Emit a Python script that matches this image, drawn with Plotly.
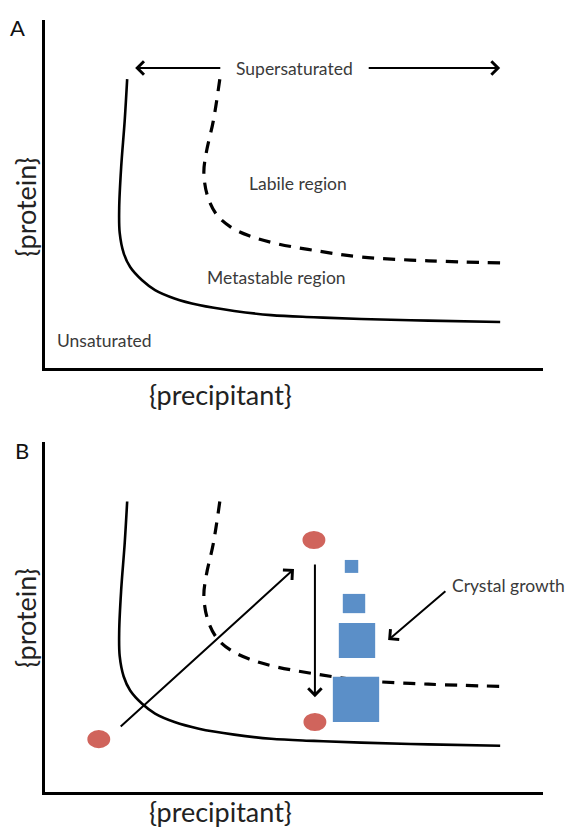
import plotly.graph_objects as go

# ---- data (conceptual units: precipitant 0-10, protein 0-10) ----
solid_x = [1.65, 1.60, 1.53, 1.49, 1.50, 1.58, 1.71, 1.95, 2.21, 2.60, 3.09, 3.80, 4.54, 5.40, 6.35, 7.70, 9.14]
solid_y = [8.30, 7.10, 5.78, 4.60, 3.88, 3.30, 2.90, 2.52, 2.24, 2.00, 1.81, 1.64, 1.52, 1.46, 1.41, 1.36, 1.32]

dash_x = [3.51, 3.38, 3.24, 3.19, 3.27, 3.45, 3.73, 4.10, 4.60, 5.40, 6.35, 7.70, 9.14]
dash_y = [8.30, 7.10, 6.20, 5.60, 4.91, 4.40, 4.05, 3.80, 3.59, 3.38, 3.19, 3.08, 3.02]

# panel B: start/end points (red dots), process arrows, crystals
dot_x = [1.08, 5.40, 5.42]
dot_y = [1.51, 7.20, 2.00]
diag_arrow = [(1.49, 1.83), (5.00, 6.37)]      # tail, head
vert_arrow = [(5.42, 6.54), (5.42, 2.71)]
growth_arrow = [(8.07, 5.77), (6.89, 4.34)]
crystal_x0 = [6.02, 5.98, 5.90, 5.78]
crystal_x1 = [6.29, 6.43, 6.63, 6.71]
crystal_y0 = [6.26, 5.11, 3.83, 2.00]
crystal_y1 = [6.63, 5.66, 4.83, 3.29]

# panel A: arrows and region labels
super_left = [(3.55, 8.62), (1.81, 8.62)]
super_right = [(6.47, 8.62), (9.14, 8.62)]
labels_A = [("Supersaturated", 5.00, 8.60), ("Labile region", 5.08, 5.29),
            ("Metastable region", 4.64, 2.59), ("Unsaturated", 1.20, 0.78)]

FONT = "Lato"
RED = "#d0645c"
BLUE = "#5b8fc8"
TXT = "#3a3a3a"

fig = go.Figure()
for xa, ya in (("x", "y"), ("x2", "y2")):
    fig.add_trace(go.Scatter(x=solid_x, y=solid_y, mode="lines", line=dict(color="black", width=2.6, shape="spline"),
                             xaxis=xa, yaxis=ya, showlegend=False, hoverinfo="skip"))
    fig.add_trace(go.Scatter(x=dash_x, y=dash_y, mode="lines",
                             line=dict(color="black", width=3.2, shape="spline", dash="12px,9px"),
                             xaxis=xa, yaxis=ya, showlegend=False, hoverinfo="skip"))

shapes = []
for i in range(len(crystal_x0)):
    shapes.append(dict(type="rect", xref="x2", yref="y2", x0=crystal_x0[i], x1=crystal_x1[i],
                       y0=crystal_y0[i], y1=crystal_y1[i], fillcolor=BLUE, line=dict(width=0), layer="above"))
for cx, cy in zip(dot_x, dot_y):
    shapes.append(dict(type="circle", xref="x2", yref="y2", x0=cx - 0.23, x1=cx + 0.23,
                       y0=cy - 0.26, y1=cy + 0.26, fillcolor=RED, line=dict(width=0), layer="above"))

ann = []
def arrow(seg, xr, yr, width=2):
    (tx, ty), (hx, hy) = seg
    ann.append(dict(x=hx, y=hy, ax=tx, ay=ty, xref=xr, yref=yr, axref=xr, ayref=yr,
                    showarrow=True, arrowhead=4, arrowsize=1.3, arrowwidth=width, arrowcolor="black", text=""))

arrow(super_left, "x", "y")
arrow(super_right, "x", "y")
arrow(diag_arrow, "x2", "y2")
arrow(vert_arrow, "x2", "y2")
arrow(growth_arrow, "x2", "y2")

for t, lx, ly in labels_A:
    ann.append(dict(x=lx, y=ly, xref="x", yref="y", text=t, showarrow=False, xanchor="center", yanchor="middle",
                    font=dict(family=FONT, size=17.5, color=TXT)))
ann.append(dict(x=8.13, y=5.91, xref="x2", yref="y2", text="Crystal growth", showarrow=False,
                xanchor="left", yanchor="middle", font=dict(family=FONT, size=17.5, color=TXT)))

for txt, px, py in (("A", 17, 27), ("B", 22, 450)):
    ann.append(dict(x=px / 565, y=1 - py / 830, xref="paper", yref="paper", text=txt, showarrow=False,
                    xanchor="center", yanchor="middle", font=dict(family=FONT, size=22, color="#111111")))
for py_pro, py_pre in ((207, 395), (618, 811)):
    ann.append(dict(x=25 / 565, y=1 - py_pro / 830, xref="paper", yref="paper", text="{protein}", textangle=-90,
                    showarrow=False, xanchor="center", yanchor="middle",
                    font=dict(family=FONT, size=27, color="#222222")))
    ann.append(dict(x=220 / 565, y=1 - py_pre / 830, xref="paper", yref="paper", text="{precipitant}",
                    showarrow=False, xanchor="center", yanchor="middle",
                    font=dict(family=FONT, size=27, color="#222222")))

ax_common = dict(range=[0, 10], showgrid=False, zeroline=False, showticklabels=False, ticks="",
                 showline=True, linecolor="black", linewidth=2.5, fixedrange=True)
xdom = [45 / 565, 543 / 565]
fig.update_layout(
    width=565, height=830, margin=dict(l=0, r=0, t=0, b=0),
    paper_bgcolor="white", plot_bgcolor="white",
    xaxis=dict(domain=xdom, anchor="y", **ax_common),
    yaxis=dict(domain=[1 - 368 / 830, 1 - 20 / 830], anchor="x", **ax_common),
    xaxis2=dict(domain=xdom, anchor="y2", **ax_common),
    yaxis2=dict(domain=[1 - 792 / 830, 1 - 442 / 830], anchor="x2", **ax_common),
    shapes=shapes, annotations=ann,
)
fig.write_html("out.html")
